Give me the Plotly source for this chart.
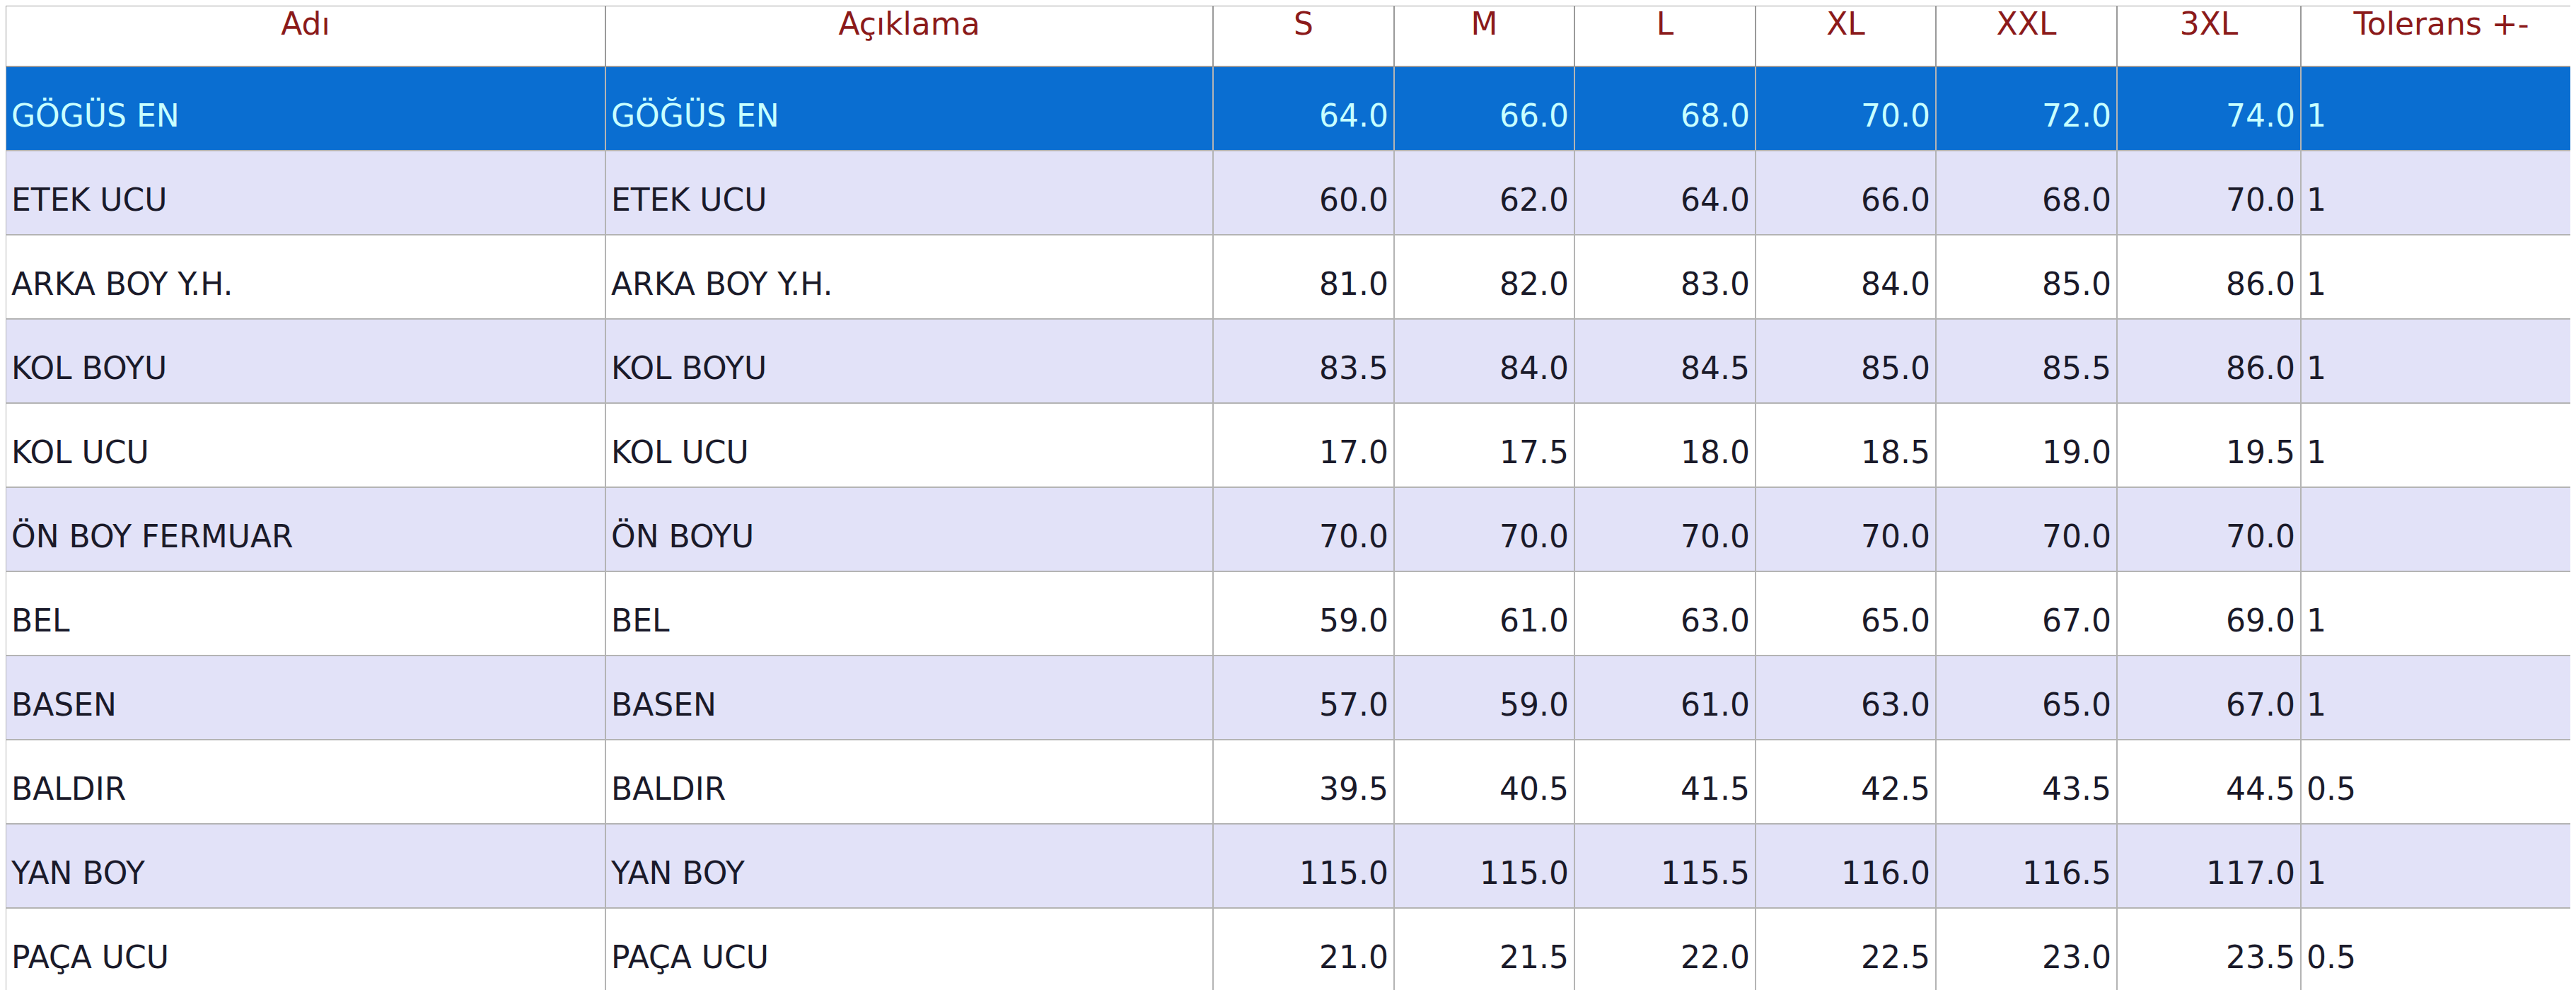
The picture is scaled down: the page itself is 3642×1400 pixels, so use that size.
import plotly.graph_objects as go

headers = ["Adı", "Açıklama", "S", "M", "L", "XL", "XXL", "3XL", "Tolerans +-"]

adi = ["GÖGÜS EN", "ETEK UCU", "ARKA BOY Y.H.", "KOL BOYU", "KOL UCU", "ÖN BOY FERMUAR",
       "BEL", "BASEN", "BALDIR", "YAN BOY", "PAÇA UCU"]
aciklama = ["GÖĞÜS EN", "ETEK UCU", "ARKA BOY Y.H.", "KOL BOYU", "KOL UCU", "ÖN BOYU",
            "BEL", "BASEN", "BALDIR", "YAN BOY", "PAÇA UCU"]
s_vals = [64.0, 60.0, 81.0, 83.5, 17.0, 70.0, 59.0, 57.0, 39.5, 115.0, 21.0]
m_vals = [66.0, 62.0, 82.0, 84.0, 17.5, 70.0, 61.0, 59.0, 40.5, 115.0, 21.5]
l_vals = [68.0, 64.0, 83.0, 84.5, 18.0, 70.0, 63.0, 61.0, 41.5, 115.5, 22.0]
xl_vals = [70.0, 66.0, 84.0, 85.0, 18.5, 70.0, 65.0, 63.0, 42.5, 116.0, 22.5]
xxl_vals = [72.0, 68.0, 85.0, 85.5, 19.0, 70.0, 67.0, 65.0, 43.5, 116.5, 23.0]
xxxl_vals = [74.0, 70.0, 86.0, 86.0, 19.5, 70.0, 69.0, 67.0, 44.5, 117.0, 23.5]
tolerans = ["1", "1", "1", "1", "1", "", "1", "1", "0.5", "1", "0.5"]

# small spacer line on top so the text sits near the middle of each row
pad = "<span style='font-size:22px'> </span><br>"

size_cols = [s_vals, m_vals, l_vals, xl_vals, xxl_vals, xxxl_vals]
columns = [adi, aciklama] + [[f"{v:.1f}" for v in c] for c in size_cols] + [tolerans]
columns = [[pad + t for t in col] for col in columns]

n = len(adi)
row_fill = ["#0A6ED1" if i == 0 else ("#E2E2F8" if i % 2 == 1 else "#FFFFFF") for i in range(n)]
row_font = ["#C8FFFF" if i == 0 else "#1A1A2A" for i in range(n)]

col_widths = [848, 859, 256, 255, 256, 255, 256, 260, 397]
align = ["left", "left"] + ["right"] * 6 + ["left"]

fig = go.Figure(go.Table(
    columnwidth=col_widths,
    header=dict(
        values=headers,
        fill_color="#FFFFFF",
        font=dict(family="DejaVu Sans", size=44, color="#8B1A1A"),
        align="center",
        height=86,
        line=dict(color="#9A9A9A", width=2),
    ),
    cells=dict(
        values=columns,
        fill_color=[row_fill] * len(columns),
        font=dict(family="DejaVu Sans", size=44, color=[row_font] * len(columns)),
        align=align,
        height=119,
        line=dict(color="#B4B4B4", width=2),
    ),
    domain=dict(x=[0, 1], y=[0, 1]),
))

fig.update_layout(width=3642, height=1400, margin=dict(l=0, r=0, t=0, b=0),
                  paper_bgcolor="#FFFFFF")

fig.write_html("out.html")
